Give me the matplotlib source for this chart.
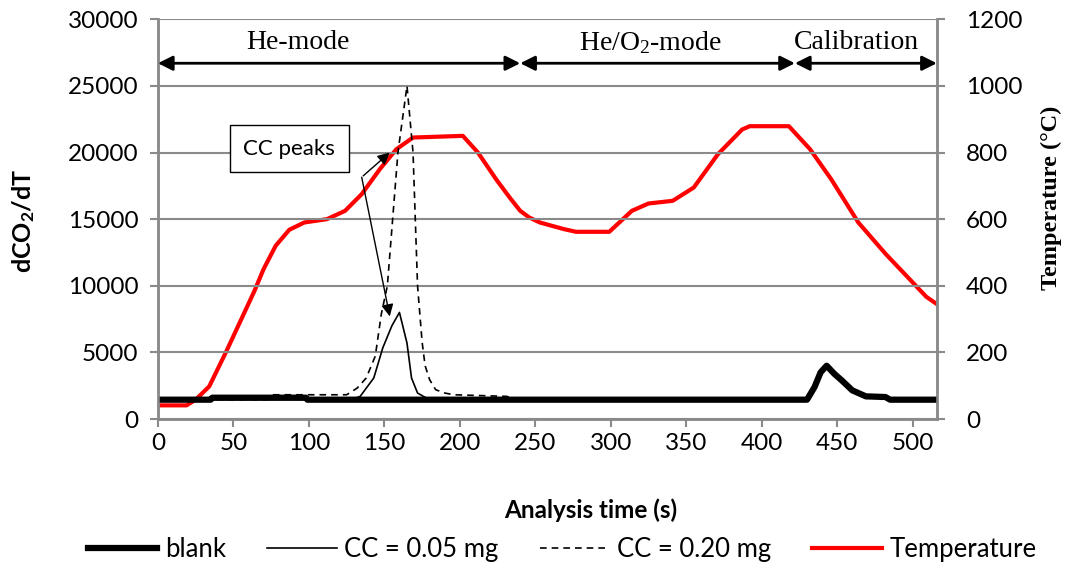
import numpy as np
import matplotlib
matplotlib.use('Agg')
import matplotlib.pyplot as plt

plt.rcParams['font.family'] = ['Lato', 'DejaVu Sans']
plt.rcParams['mathtext.default'] = 'regular'

# temperature programme (s, degC)
temp_t = [0, 19, 25, 34, 45, 56, 64, 70, 78, 87, 97, 112, 124, 135, 147, 158, 169,
          202, 212, 224, 233, 240, 246, 253, 269, 277, 299, 314, 325, 341, 355,
          371, 387, 392, 418, 432, 446, 464, 482, 509, 516]
temp_c = [41, 41, 58, 98, 200, 307, 385, 450, 520, 568, 590, 600, 625, 675, 750, 810, 845,
          850, 800, 720, 665, 625, 605, 590, 570, 562, 562, 625, 647, 655, 695,
          795, 869, 879, 879, 810, 720, 590, 496, 367, 345]

# blank run (dCO2/dT)
blank_t = [0, 35, 36, 98, 99, 430, 435, 439, 443, 448, 453, 460, 469, 482, 485, 516]
blank_v = [1450, 1450, 1600, 1600, 1450, 1450, 2400, 3500, 4000, 3400, 2900, 2150,
           1700, 1650, 1450, 1450]

# CC = 0.05 mg
cc05_t = [0, 128, 134, 143, 149, 155, 160, 165, 168, 172, 179, 425]
cc05_v = [1450, 1450, 1700, 3080, 5350, 7000, 8000, 5700, 3080, 1950, 1500, 1450]

# CC = 0.20 mg
cc20_t = [0, 72, 76, 125, 132, 138, 144, 148, 152, 159, 165, 169, 172, 175, 177,
          180, 184, 190, 196, 231, 240, 425]
cc20_v = [1450, 1450, 1820, 1820, 2320, 3080, 4720, 7880, 10000, 20000, 25000, 20000,
          10000, 5800, 4000, 2950, 2200, 1950, 1820, 1700, 1450, 1450]

# modes along the top
mode_names = ['He-mode', 'He/O$_2$-mode', 'Calibration']
mode_edges = [0, 240, 422, 516]
mode_label_x = [93, 326, 463]

fig = plt.figure(figsize=(10.67, 5.67), dpi=100)
ax = fig.add_axes([0.148, 0.261, 0.730, 0.705])
ax2 = ax.twinx()

gray = '#8a8a8a'
ax.set_xlim(0, 516)
ax.set_ylim(0, 30000)
ax2.set_ylim(0, 1200)
ax.set_xticks(np.arange(0, 501, 50))
ax.set_yticks(np.arange(0, 30001, 5000))
ax2.set_yticks(np.arange(0, 1201, 200))
ax.grid(axis='y', color=gray, lw=1.5)
ax.set_axisbelow(True)

for a in (ax, ax2):
    for s in a.spines.values():
        s.set_color(gray)
        s.set_linewidth(1.8)
    a.spines['top'].set_visible(False)
    a.tick_params(color=gray, width=1.5, length=6, labelsize=17.5)
ax.tick_params(axis='x', pad=4)
ax.tick_params(axis='y', pad=8)
ax2.tick_params(axis='y', pad=15)

l_05, = ax.plot(cc05_t, cc05_v, color='black', lw=1.2, label='CC = 0.05 mg')
l_20, = ax.plot(cc20_t, cc20_v, color='black', lw=1.2, ls=(0, (4, 3)), label='CC = 0.20 mg')
l_blank, = ax.plot(blank_t, blank_v, color='black', lw=4.5, label='blank')
l_temp, = ax2.plot(temp_t, temp_c, color='#ff0000', lw=3, label='Temperature')
ax2.set_zorder(ax.get_zorder() - 1)
ax.patch.set_visible(False)

ax.set_xlabel('Analysis time (s)', fontsize=17.5, fontweight='bold', va='center')
ax.xaxis.set_label_coords(0.555, -0.2275)
ax.set_ylabel('dCO$_2$/dT', fontsize=18, fontweight='bold', va='center')
ax.yaxis.set_label_coords(-0.172, 0.495)
ax2.set_ylabel('Temperature (°C)', fontsize=17.5, fontweight='bold',
               family='Liberation Serif', va='center')
ax2.yaxis.set_label_coords(1.1476, 0.5525)

# mode arrows
for x0, x1 in zip(mode_edges[:-1], mode_edges[1:]):
    ax.annotate('', xy=(x1, 26700), xytext=(x0, 26700),
                arrowprops=dict(arrowstyle='<|-|>', color='black', lw=2,
                                mutation_scale=22, shrinkA=0, shrinkB=0))
for name, xc in zip(mode_names, mode_label_x):
    ax.text(xc, 28250, name, ha='center', va='center', fontsize=20,
            family='Liberation Serif')

# CC peaks call-out
ax.text(87, 20300, 'CC peaks', ha='center', va='center', fontsize=16,
        bbox=dict(boxstyle='square,pad=0.6', fc='white', ec='black', lw=1))
ax.annotate('', xy=(153.6, 20000), xytext=(136, 18250),
            arrowprops=dict(arrowstyle='-|>', color='black', lw=1,
                            mutation_scale=18, shrinkA=0, shrinkB=0))
ax.annotate('', xy=(153.6, 7700), xytext=(135, 18150),
            arrowprops=dict(arrowstyle='-|>', color='black', lw=1,
                            mutation_scale=18, shrinkA=0, shrinkB=0))

fig.legend(handles=[l_blank, l_05, l_20, l_temp], loc='center', ncol=4,
           bbox_to_anchor=(0.527, 0.03), frameon=False, fontsize=18.5,
           handlelength=2.7, columnspacing=1.6, handletextpad=0.3)

fig.savefig('out.png', dpi=100)
